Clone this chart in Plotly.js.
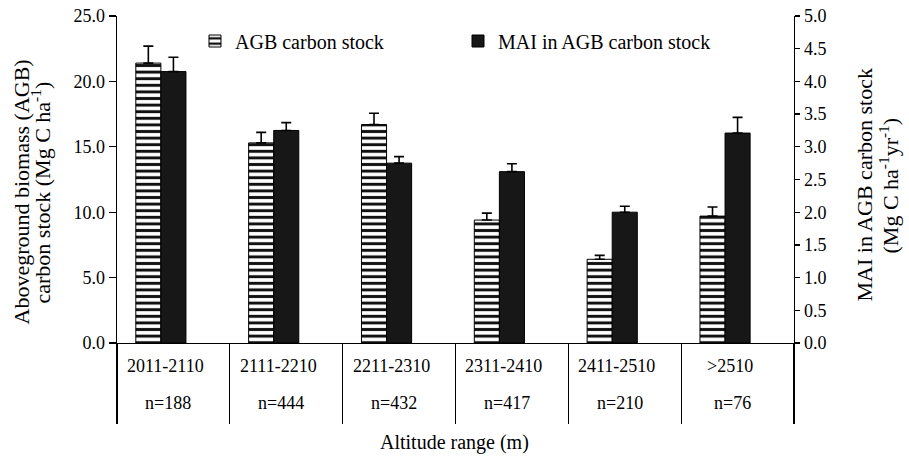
<!DOCTYPE html>
<html><head><meta charset="utf-8">
<script src="https://cdn.plot.ly/plotly-3.0.1.min.js"></script>
<style>html,body{margin:0;padding:0;background:#fff}</style>
</head><body><div id="chart" style="width:909px;height:456px"></div>
<script>
const categories = ['2011-2110', '2111-2210', '2211-2310', '2311-2410', '2411-2510', '>2510'];
const sampleSizes = ['n=188', 'n=444', 'n=432', 'n=417', 'n=210', 'n=76'];
const agbStock = [21.4, 15.3, 16.7, 9.4, 6.4, 9.7];
const agbError = [1.3, 0.8, 0.87, 0.53, 0.3, 0.7];
const maiStock = [4.15, 3.25, 2.75, 2.62, 2.0, 3.21];
const maiError = [0.22, 0.12, 0.1, 0.12, 0.09, 0.24];
const noError = [0, 0, 0, 0, 0, 0];
const leftTicks = [0, 5, 10, 15, 20, 25];
const rightTicks = [0, 0.5, 1, 1.5, 2, 2.5, 3, 3.5, 4, 4.5, 5];
const agbName = 'AGB carbon stock';
const maiName = 'MAI in AGB carbon stock';
const xTitle = 'Altitude range (m)';
const yTitleLines = ['Aboveground biomass (AGB)', 'carbon stock (Mg C ha<sup>-1</sup>)'];
const y2TitleLines = ['MAI in AGB carbon stock', '(Mg C ha<sup>-1</sup>yr<sup>-1</sup>)'];

const FONT = '"Liberation Serif", "Times New Roman", Times, "DejaVu Serif", serif';
const BLACK = '#000';

const traces = [
  {
    type: 'bar', name: agbName, x: categories, y: agbStock, yaxis: 'y',
    width: 2/9, offset: -1/3, legend: 'legend',
    marker: {
      color: '#fff',
      pattern: {shape: '-', fgcolor: '#111', bgcolor: '#fff', size: 6.6, solidity: 0.45, fillmode: 'replace'},
      line: {color: BLACK, width: 1}
    },
    error_y: {type: 'data', array: agbError, arrayminus: noError, symmetric: false, color: BLACK, thickness: 1.6, width: 5}
  },
  {
    type: 'bar', name: maiName, x: categories, y: maiStock, yaxis: 'y2',
    width: 2/9, offset: -1/9, legend: 'legend2',
    marker: {color: '#171717', line: {color: BLACK, width: 1}},
    error_y: {type: 'data', array: maiError, arrayminus: noError, symmetric: false, color: BLACK, thickness: 1.6, width: 5}
  }
];

const annotations = [];
categories.forEach((c, i) => {
  annotations.push({x: c, xref: 'x', y: 0, yref: 'paper', yshift: -23, xshift: -8, text: c,
    showarrow: false, font: {family: FONT, size: 18, color: BLACK}, xanchor: 'center', yanchor: 'middle'});
  annotations.push({x: c, xref: 'x', y: 0, yref: 'paper', yshift: -60, xshift: -5, text: sampleSizes[i],
    showarrow: false, font: {family: FONT, size: 18, color: BLACK}, xanchor: 'center', yanchor: 'middle'});
});
annotations.push({x: 0.5, xref: 'paper', y: 0, yref: 'paper', yshift: -99, xshift: -1, text: xTitle,
  showarrow: false, font: {family: FONT, size: 20, color: BLACK}, xanchor: 'center', yanchor: 'middle'});
[[yTitleLines[0], -96], [yTitleLines[1], -77]].forEach(([t, s]) => {
  annotations.push({x: 0, xref: 'paper', y: 0.5, yref: 'paper', xshift: s, yshift: -13, text: t, textangle: -90,
    showarrow: false, font: {family: FONT, size: 22, color: BLACK}, xanchor: 'center', yanchor: 'middle'});
});
[[y2TitleLines[0], 70], [y2TitleLines[1], 94]].forEach(([t, s]) => {
  annotations.push({x: 1, xref: 'paper', y: 0.5, yref: 'paper', xshift: s, yshift: -6, text: t, textangle: -90,
    showarrow: false, font: {family: FONT, size: 22, color: BLACK}, xanchor: 'center', yanchor: 'middle'});
});

const layout = {
  width: 909, height: 456,
  margin: {l: 117, r: 115, t: 16, b: 113, pad: 0},
  paper_bgcolor: '#fff', plot_bgcolor: '#fff',
  font: {family: FONT, size: 18, color: BLACK},
  barmode: 'overlay',
  showlegend: true,
  xaxis: {
    type: 'category', range: [-0.5, 5.5], tickson: 'boundaries', ticks: 'outside', ticklen: 80,
    tickcolor: BLACK, tickwidth: 1.3, showticklabels: false, showline: true, linecolor: BLACK, linewidth: 1.3,
    showgrid: false, zeroline: false, fixedrange: true
  },
  yaxis: {
    range: [0, 25], tickvals: leftTicks, tickformat: '.1f', ticks: 'outside', ticklen: 7, tickwidth: 1.3,
    tickcolor: BLACK, showline: true, linecolor: BLACK, linewidth: 1.3, showgrid: false, zeroline: false,
    tickfont: {family: FONT, size: 18, color: BLACK}
  },
  yaxis2: {
    overlaying: 'y', side: 'right', range: [0, 5], tickvals: rightTicks, tickformat: '.1f', ticks: 'outside',
    ticklen: 5, tickwidth: 1.3, tickcolor: BLACK, showline: true, linecolor: BLACK, linewidth: 1.3,
    showgrid: false, zeroline: false, tickfont: {family: FONT, size: 18, color: BLACK}
  },
  legend: {x: 0.1152, y: 0.9235, xanchor: 'left', yanchor: 'middle', orientation: 'h',
    bgcolor: 'rgba(0,0,0,0)', borderwidth: 0, font: {family: FONT, size: 20, color: BLACK}},
  legend2: {x: 0.5037, y: 0.9235, xanchor: 'left', yanchor: 'middle', orientation: 'h',
    bgcolor: 'rgba(0,0,0,0)', borderwidth: 0, font: {family: FONT, size: 20, color: BLACK}},
  annotations: annotations
};

Plotly.newPlot('chart', traces, layout, {displayModeBar: false, staticPlot: true});
</script>
</body></html>
